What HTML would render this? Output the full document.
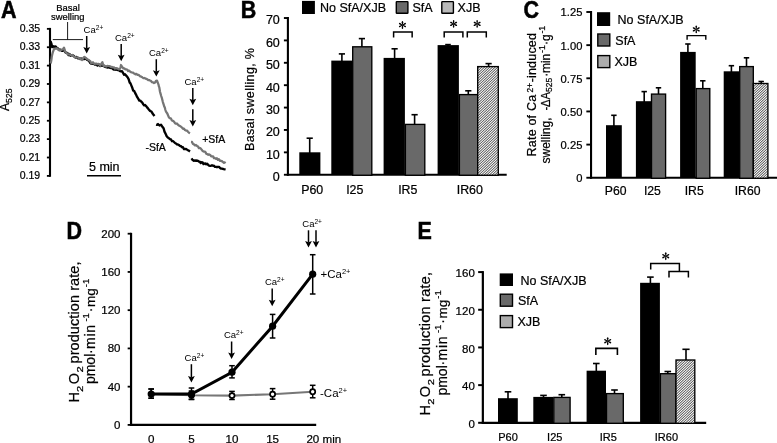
<!DOCTYPE html><html><head><meta charset="utf-8"><style>html,body{margin:0;padding:0;background:#fff}svg{display:block;will-change:transform;transform:translateZ(0)}</style></head><body>
<svg width="777" height="443" viewBox="0 0 777 443" font-family="Liberation Sans, sans-serif" fill="#000" stroke="#000" stroke-width="0">
<defs><linearGradient id="hg" gradientUnits="userSpaceOnUse" x1="0" y1="0" x2="1.247" y2="1.327" spreadMethod="repeat"><stop offset="0" stop-color="#686868"/><stop offset="0.15" stop-color="#686868"/><stop offset="0.5" stop-color="#f4f4f4"/><stop offset="0.65" stop-color="#f4f4f4"/><stop offset="1" stop-color="#686868"/></linearGradient><filter id="hb" x="-5%" y="-5%" width="110%" height="110%"><feGaussianBlur stdDeviation="0.55"/></filter><pattern id="hatch" width="1.82" height="1.82" patternUnits="userSpaceOnUse" patternTransform="rotate(-43.2)"><rect width="1.82" height="1.82" fill="#f6f6f6"/><rect width="1.82" height="0.8" fill="#4a4a4a"/></pattern></defs>
<rect width="777" height="443" fill="#fff"/>
<text transform="translate(1.0,17.8) scale(1,1.075)" font-size="21.5" font-weight="bold" stroke="#000" stroke-width="0.5">A</text>
<line x1="50" y1="27.9" x2="50" y2="176.8" stroke="#000" stroke-width="2.1" />
<line x1="46.9" y1="28.85" x2="50" y2="28.85" stroke="#000" stroke-width="1.8" />
<text x="40.2" y="32.1" font-size="10.5" text-anchor="end" font-weight="normal" stroke="#000" stroke-width="0.22" >0.35</text>
<line x1="46.9" y1="47.230000000000004" x2="50" y2="47.230000000000004" stroke="#000" stroke-width="1.8" />
<text x="40.2" y="50.480000000000004" font-size="10.5" text-anchor="end" font-weight="normal" stroke="#000" stroke-width="0.22" >0.33</text>
<line x1="46.9" y1="65.61" x2="50" y2="65.61" stroke="#000" stroke-width="1.8" />
<text x="40.2" y="68.86" font-size="10.5" text-anchor="end" font-weight="normal" stroke="#000" stroke-width="0.22" >0.31</text>
<line x1="46.9" y1="83.99000000000001" x2="50" y2="83.99000000000001" stroke="#000" stroke-width="1.8" />
<text x="40.2" y="87.24000000000001" font-size="10.5" text-anchor="end" font-weight="normal" stroke="#000" stroke-width="0.22" >0.29</text>
<line x1="46.9" y1="102.37" x2="50" y2="102.37" stroke="#000" stroke-width="1.8" />
<text x="40.2" y="105.62" font-size="10.5" text-anchor="end" font-weight="normal" stroke="#000" stroke-width="0.22" >0.27</text>
<line x1="46.9" y1="120.75" x2="50" y2="120.75" stroke="#000" stroke-width="1.8" />
<text x="40.2" y="124.0" font-size="10.5" text-anchor="end" font-weight="normal" stroke="#000" stroke-width="0.22" >0.25</text>
<line x1="46.9" y1="139.13" x2="50" y2="139.13" stroke="#000" stroke-width="1.8" />
<text x="40.2" y="142.38" font-size="10.5" text-anchor="end" font-weight="normal" stroke="#000" stroke-width="0.22" >0.23</text>
<line x1="46.9" y1="157.51" x2="50" y2="157.51" stroke="#000" stroke-width="1.8" />
<text x="40.2" y="160.76" font-size="10.5" text-anchor="end" font-weight="normal" stroke="#000" stroke-width="0.22" >0.21</text>
<line x1="46.9" y1="175.89" x2="50" y2="175.89" stroke="#000" stroke-width="1.8" />
<text x="40.2" y="179.14" font-size="10.5" text-anchor="end" font-weight="normal" stroke="#000" stroke-width="0.22" >0.19</text>
<text transform="translate(9.1,110.9) rotate(-90)" font-size="12" stroke="#000" stroke-width="0.22" >A<tspan font-size="8.6" dy="3.1">525</tspan></text>
<text x="68" y="11.3" font-size="9.4" text-anchor="middle" font-weight="normal" stroke="#000" stroke-width="0.22" >Basal</text>
<text x="67.8" y="19.9" font-size="9.4" text-anchor="middle" font-weight="normal" stroke="#000" stroke-width="0.22" >swelling</text>
<line x1="67.6" y1="22" x2="67.6" y2="39.6" stroke="#000" stroke-width="0.9" />
<line x1="52.8" y1="39.6" x2="83" y2="39.6" stroke="#000" stroke-width="0.9" />
<text x="83.6" y="33.3" font-size="9.5">Ca<tspan font-size="6.6" dy="-2.9">2+</tspan></text>
<line x1="86.7" y1="36" x2="86.7" y2="48.5" stroke="#000" stroke-width="1.5" />
<path d="M83.3,47.0 L86.7,48.2 L90.10000000000001,47.0 L86.7,53.4 Z" fill="#000"/>
<text x="115" y="40.6" font-size="9.5">Ca<tspan font-size="6.6" dy="-2.9">2+</tspan></text>
<line x1="121.2" y1="44.1" x2="121.2" y2="56.300000000000004" stroke="#000" stroke-width="1.5" />
<path d="M117.8,54.800000000000004 L121.2,56.00000000000001 L124.60000000000001,54.800000000000004 L121.2,61.2 Z" fill="#000"/>
<text x="149" y="55.8" font-size="9.5">Ca<tspan font-size="6.6" dy="-2.9">2+</tspan></text>
<line x1="156.3" y1="59.2" x2="156.3" y2="71.69999999999999" stroke="#000" stroke-width="1.5" />
<path d="M152.9,70.19999999999999 L156.3,71.39999999999999 L159.70000000000002,70.19999999999999 L156.3,76.6 Z" fill="#000"/>
<text x="184.5" y="84.7" font-size="9.5">Ca<tspan font-size="6.6" dy="-2.9">2+</tspan></text>
<line x1="192.8" y1="88" x2="192.8" y2="100.3" stroke="#000" stroke-width="1.5" />
<path d="M189.4,98.8 L192.8,100.0 L196.20000000000002,98.8 L192.8,105.2 Z" fill="#000"/>
<line x1="192.8" y1="109.3" x2="192.8" y2="121.6" stroke="#000" stroke-width="1.5" />
<path d="M189.4,120.1 L192.8,121.3 L196.20000000000002,120.1 L192.8,126.5 Z" fill="#000"/>
<polyline points="50.5,41.0 51.3,43.4 52.2,47.1 53.1,46.1 54.1,46.8 55.0,46.5 55.9,46.7 56.8,48.2 57.7,48.1 58.6,49.5 59.5,49.6 60.4,49.7 61.3,50.3 62.2,50.9 63.1,49.9 64.0,50.1 64.9,51.5 65.8,52.7 66.8,52.9 67.7,53.4 68.6,55.1 69.6,54.0 70.5,55.7 71.5,55.2 72.4,55.3 73.4,55.7 74.3,56.4 75.3,57.6 76.3,56.9 77.2,57.9 78.2,58.4 79.2,58.3 80.2,59.0 81.1,58.5 82.1,58.9 83.1,58.8 84.0,59.2 85.0,58.4 86.1,58.9 87.2,60.0 88.3,60.4 89.2,61.1 90.2,62.8 91.1,63.6 92.0,63.1 92.9,63.8 93.9,63.9 94.8,64.6 95.7,64.6 96.6,64.1 97.5,65.5 98.4,64.4 99.3,65.2 100.2,66.0 101.3,65.2 102.5,65.9 103.6,65.4 104.5,66.6 105.5,67.0 106.4,66.9 107.3,67.6 108.3,66.9 109.2,67.7 110.2,67.9 111.1,68.1 112.1,68.2 113.1,69.1 114.1,69.6 115.0,69.2 116.0,69.8 117.0,69.0 118.0,70.2 119.0,70.3 120.0,71.1 121.0,71.4 122.0,71.2 123.0,72.8 124.0,74.8 125.0,74.2 126.0,75.4 127.0,76.5 128.0,77.9 128.8,79.6 129.7,82.6 130.5,83.4 131.4,85.6 132.3,87.8 133.2,90.6 134.1,90.8 135.1,92.9 136.0,94.6 137.1,96.9 138.2,98.7 139.3,100.6 140.3,100.6 141.3,101.7 142.3,102.6 143.2,104.3 144.2,105.4 145.1,105.0 146.0,106.0 146.9,107.1 147.8,108.1 148.8,109.5 149.7,110.6 150.6,111.1 151.6,111.8 152.6,113.6 153.5,114.7 154.5,116.0" fill="none" stroke="#000" stroke-width="2.35" stroke-linejoin="round"/>
<polyline points="156.1,124.6 157.1,124.9 158.0,124.1 159.5,125.5 161.0,124.7 162.6,127.1 163.6,128.2 164.5,131.6 165.6,133.8 166.7,136.3 167.8,137.6 169.0,138.3 170.0,139.2 171.0,139.5 172.0,141.2 173.0,141.1 174.0,142.0 175.0,143.0 176.0,143.5 176.9,144.4 177.9,144.5 178.9,145.0 179.9,145.8 180.9,146.2 181.9,147.2 183.0,147.2 184.0,149.1 185.0,149.2 186.0,148.9 187.0,149.6 188.0,150.3 189.0,150.8 190.0,151.5" fill="none" stroke="#000" stroke-width="2.35" stroke-linejoin="round"/>
<polyline points="191.5,158.4 192.7,160.1 193.8,160.8 195.0,160.4 196.0,160.8 197.0,160.5 198.0,160.9 198.9,161.6 199.8,161.7 200.7,163.0 201.7,162.2 202.6,162.3 203.5,164.1 204.4,163.7 205.3,163.4 206.2,164.3 207.2,163.7 208.1,164.8 209.1,165.7 210.0,165.8 211.0,165.8 212.0,165.3 213.0,165.8 214.0,165.7 215.0,166.9 216.0,166.8 217.0,167.3 218.0,166.8 219.0,166.9 220.0,168.0 220.9,168.6 221.9,168.6 222.8,168.8 223.7,169.1 224.7,169.3 225.6,169.2" fill="none" stroke="#000" stroke-width="2.35" stroke-linejoin="round"/>
<polyline points="50.7,63.5 51.0,62.0 51.4,59.8 51.7,57.3 52.2,54.6 52.8,52.3 54.1,48.9 55.2,48.8 56.2,48.4 57.3,48.4 58.4,49.7 59.5,50.5 60.6,50.4 61.8,49.6 62.9,49.4 64.0,47.6 64.6,49.6 65.2,51.6 66.3,52.8 67.5,53.9 68.6,54.5 69.6,54.4 70.5,55.0 71.5,55.6 72.4,55.0 73.4,56.2 74.3,57.0 75.3,57.2 76.3,57.5 77.2,57.5 78.2,57.4 79.2,58.6 80.2,58.4 81.1,59.4 82.1,60.0 83.2,58.0 84.4,56.8 86.0,58.1 87.2,59.2 88.3,59.7 89.2,60.4 90.2,61.1 91.1,62.9 92.0,63.0 92.9,62.3 93.9,63.5 94.8,63.9 95.7,63.7 96.6,63.6 97.5,64.2 98.4,63.9 99.3,64.0 100.2,65.7 101.3,63.8 102.4,62.2 103.6,66.2 104.5,65.7 105.5,66.4 106.4,66.5 107.3,65.8 108.3,66.0 109.2,66.2 110.2,66.4 111.1,67.1 112.1,66.9 113.1,67.4 114.1,67.3 115.0,68.6 116.0,68.1 117.0,68.4 118.0,68.8 118.9,69.4 119.9,68.9 120.5,67.6 121.0,65.0 122.2,66.8 123.3,68.5 124.3,68.3 125.2,69.3 126.2,69.3 127.1,69.5 128.1,71.1 129.0,70.6 130.0,71.5 130.9,72.2 131.8,72.4 132.7,72.5 133.6,73.2 134.5,73.6 135.5,74.4 136.4,73.8 137.3,74.9 138.2,74.8 139.1,75.3 140.0,76.4 140.9,76.4 141.8,76.9 142.7,77.6 143.6,78.2 144.5,78.0 145.5,78.6 146.4,78.9 147.3,79.3 148.2,80.0 149.1,80.0 150.0,80.5 151.0,81.0 152.0,82.2 153.0,82.4 154.0,83.1 155.0,82.6 156.0,80.9 157.0,80.7 158.5,84.6 158.9,86.4 159.3,87.4 159.6,89.3 160.0,91.7 160.4,93.1 161.2,96.0 162.0,98.4 162.8,101.8 163.7,104.6 164.3,106.6 164.8,107.4 165.4,110.0 166.0,111.7 167.3,113.5 168.7,116.9 169.8,118.2 170.8,118.3 171.9,120.5 173.0,120.9 174.0,121.7 175.0,123.2 175.9,123.7 176.9,123.5 177.9,124.7 178.9,125.5 179.9,126.0 180.9,126.6 181.9,127.5 183.0,128.8 184.0,128.6 185.0,130.1 186.0,130.6 187.0,130.6 188.0,131.7 189.0,132.7 190.0,133.2" fill="none" stroke="#757575" stroke-width="2.25" stroke-linejoin="round"/>
<polyline points="191.0,141.8 192.0,141.9 193.0,144.0 194.0,144.4 195.0,145.4 196.0,145.0 197.0,145.9 198.0,146.4 198.9,148.1 199.9,148.1 200.8,148.6 201.7,149.7 202.7,151.1 203.6,151.6 204.5,151.6 205.4,152.1 206.4,153.9 207.3,154.1 208.3,154.8 209.2,154.4 210.2,154.9 211.2,156.3 212.1,156.4 213.1,156.4 214.0,158.1 215.0,158.2 216.0,158.9 216.9,158.3 217.9,159.9 218.9,159.2 219.8,160.8 220.8,160.7 221.7,161.0 222.7,161.8 223.7,162.8 224.6,162.3 225.6,163.1" fill="none" stroke="#757575" stroke-width="2.25" stroke-linejoin="round"/>
<text x="202.2" y="142.8" font-size="10.5" text-anchor="start" font-weight="normal" stroke="#000" stroke-width="0.22" >+SfA</text>
<text x="145.4" y="150.5" font-size="10.5" text-anchor="start" font-weight="normal" stroke="#000" stroke-width="0.22" >-SfA</text>
<text x="89" y="170.5" font-size="12.5" text-anchor="start" font-weight="normal" stroke="#000" stroke-width="0.22" >5 min</text>
<line x1="87" y1="175.8" x2="121" y2="175.8" stroke="#000" stroke-width="1.6" />
<text transform="translate(240.75,17.8) scale(1,1.075)" font-size="21.5" font-weight="bold" stroke="#000" stroke-width="0.5">B</text>
<line x1="287.9" y1="17" x2="287.9" y2="175.75" stroke="#000" stroke-width="2.1" />
<line x1="286.9" y1="174.75" x2="506.7" y2="174.75" stroke="#000" stroke-width="2.1" />
<line x1="283.9" y1="174.75" x2="287.9" y2="174.75" stroke="#000" stroke-width="1.9" />
<text x="279.8" y="181.2" font-size="12.5" text-anchor="end" font-weight="normal" stroke="#000" stroke-width="0.22" >0</text>
<line x1="283.9" y1="152.36" x2="287.9" y2="152.36" stroke="#000" stroke-width="1.9" />
<text x="279.8" y="158.81" font-size="12.5" text-anchor="end" font-weight="normal" stroke="#000" stroke-width="0.22" >10</text>
<line x1="283.9" y1="129.97" x2="287.9" y2="129.97" stroke="#000" stroke-width="1.9" />
<text x="279.8" y="136.42" font-size="12.5" text-anchor="end" font-weight="normal" stroke="#000" stroke-width="0.22" >20</text>
<line x1="283.9" y1="107.58" x2="287.9" y2="107.58" stroke="#000" stroke-width="1.9" />
<text x="279.8" y="114.03" font-size="12.5" text-anchor="end" font-weight="normal" stroke="#000" stroke-width="0.22" >30</text>
<line x1="283.9" y1="85.19" x2="287.9" y2="85.19" stroke="#000" stroke-width="1.9" />
<text x="279.8" y="91.64" font-size="12.5" text-anchor="end" font-weight="normal" stroke="#000" stroke-width="0.22" >40</text>
<line x1="283.9" y1="62.8" x2="287.9" y2="62.8" stroke="#000" stroke-width="1.9" />
<text x="279.8" y="69.25" font-size="12.5" text-anchor="end" font-weight="normal" stroke="#000" stroke-width="0.22" >50</text>
<line x1="283.9" y1="40.41" x2="287.9" y2="40.41" stroke="#000" stroke-width="1.9" />
<text x="279.8" y="46.86" font-size="12.5" text-anchor="end" font-weight="normal" stroke="#000" stroke-width="0.22" >60</text>
<line x1="283.9" y1="18.019999999999982" x2="287.9" y2="18.019999999999982" stroke="#000" stroke-width="1.9" />
<text x="279.8" y="24.21999999999998" font-size="12.5" text-anchor="end" font-weight="normal" stroke="#000" stroke-width="0.22" >70</text>
<text transform="translate(253.5,151) rotate(-90)" font-size="12.5" stroke="#000" stroke-width="0.22" textLength="103" lengthAdjust="spacing">Basal swelling, %</text>
<rect x="302" y="0.9" width="12.9" height="13.1" fill="#000"/>
<text x="320" y="12.2" font-size="12.5" text-anchor="start" font-weight="normal" stroke="#000" stroke-width="0.22" >No SfA/XJB</text>
<rect x="396.3" y="1.6" width="11.6" height="11.7" rx="0.6" fill="#696969" stroke="#000" stroke-width="1.4"/>
<text x="412.5" y="12.2" font-size="12.5" text-anchor="start" font-weight="normal" stroke="#000" stroke-width="0.22" >SfA</text>
<rect x="441.8" y="1.6" width="11.6" height="11.7" rx="0.6" fill="#bababa" stroke="#000" stroke-width="1.4"/>
<text x="457.6" y="12.2" font-size="12.5" text-anchor="start" font-weight="normal" stroke="#000" stroke-width="0.22" >XJB</text>
<line x1="309.7" y1="138.2" x2="309.7" y2="153" stroke="#000" stroke-width="1.6" />
<line x1="306.59999999999997" y1="138.2" x2="312.8" y2="138.2" stroke="#000" stroke-width="1.6" />
<rect x="299.3" y="152.3" width="21.099999999999966" height="22.44999999999999" fill="#000"/>
<line x1="341.9" y1="53.9" x2="341.9" y2="62" stroke="#000" stroke-width="1.6" />
<line x1="338.79999999999995" y1="53.9" x2="345.0" y2="53.9" stroke="#000" stroke-width="1.6" />
<rect x="331.3" y="60.6" width="20.899999999999977" height="114.15" fill="#000"/>
<line x1="361.9" y1="38.6" x2="361.9" y2="47" stroke="#000" stroke-width="1.6" />
<line x1="358.79999999999995" y1="38.6" x2="365.0" y2="38.6" stroke="#000" stroke-width="1.6" />
<rect x="352.7" y="46.8" width="19.100000000000023" height="128.45" fill="#696969" stroke="#000" stroke-width="1.35"/>
<line x1="394.6" y1="48.8" x2="394.6" y2="59" stroke="#000" stroke-width="1.6" />
<line x1="391.5" y1="48.8" x2="397.70000000000005" y2="48.8" stroke="#000" stroke-width="1.6" />
<rect x="383.6" y="57.9" width="21.299999999999955" height="116.85" fill="#000"/>
<line x1="414.6" y1="114.7" x2="414.6" y2="124" stroke="#000" stroke-width="1.6" />
<line x1="411.5" y1="114.7" x2="417.70000000000005" y2="114.7" stroke="#000" stroke-width="1.6" />
<rect x="405.4" y="124.4" width="19.400000000000034" height="50.849999999999994" fill="#696969" stroke="#000" stroke-width="1.35"/>
<line x1="448" y1="44.6" x2="448" y2="46" stroke="#000" stroke-width="1.6" />
<line x1="445.2" y1="44.6" x2="450.8" y2="44.6" stroke="#000" stroke-width="1.6" />
<rect x="437.6" y="45.1" width="21.299999999999955" height="129.65" fill="#000"/>
<line x1="468.3" y1="90.8" x2="468.3" y2="95" stroke="#000" stroke-width="1.6" />
<line x1="465.2" y1="90.8" x2="471.40000000000003" y2="90.8" stroke="#000" stroke-width="1.6" />
<rect x="459.4" y="94.6" width="18.30000000000001" height="80.65" fill="#696969" stroke="#000" stroke-width="1.35"/>
<line x1="488.6" y1="63.6" x2="488.6" y2="67" stroke="#000" stroke-width="1.6" />
<line x1="485.5" y1="63.6" x2="491.70000000000005" y2="63.6" stroke="#000" stroke-width="1.6" />
<rect x="477.7" y="66.6" width="20.600000000000023" height="108.65" fill="url(#hg)" stroke="#000" stroke-width="1.35"/>
<path d="M393.6,37.6 V31.95 H412.15 V37.6" fill="none" stroke="#000" stroke-width="1.5"/>
<g transform="translate(402.45,25.05)" fill="#000"><path transform="rotate(0)" d="M0,0.2 L-0.42,-0.6 L-0.78,-2.9 Q-0.6,-3.95 0,-3.95 Q0.6,-3.95 0.78,-2.9 L0.42,-0.6 Z"/><path transform="rotate(62)" d="M0,0.2 L-0.42,-0.6 L-0.78,-2.9 Q-0.6,-3.95 0,-3.95 Q0.6,-3.95 0.78,-2.9 L0.42,-0.6 Z"/><path transform="rotate(118)" d="M0,0.2 L-0.42,-0.6 L-0.78,-2.9 Q-0.6,-3.95 0,-3.95 Q0.6,-3.95 0.78,-2.9 L0.42,-0.6 Z"/><path transform="rotate(180)" d="M0,0.2 L-0.42,-0.6 L-0.78,-2.9 Q-0.6,-3.95 0,-3.95 Q0.6,-3.95 0.78,-2.9 L0.42,-0.6 Z"/><path transform="rotate(242)" d="M0,0.2 L-0.42,-0.6 L-0.78,-2.9 Q-0.6,-3.95 0,-3.95 Q0.6,-3.95 0.78,-2.9 L0.42,-0.6 Z"/><path transform="rotate(298)" d="M0,0.2 L-0.42,-0.6 L-0.78,-2.9 Q-0.6,-3.95 0,-3.95 Q0.6,-3.95 0.78,-2.9 L0.42,-0.6 Z"/></g>
<path d="M444.2,37.6 V31.95 H462.9 V37.6" fill="none" stroke="#000" stroke-width="1.5"/>
<g transform="translate(453.6,23.85)" fill="#000"><path transform="rotate(0)" d="M0,0.2 L-0.42,-0.6 L-0.78,-2.9 Q-0.6,-3.95 0,-3.95 Q0.6,-3.95 0.78,-2.9 L0.42,-0.6 Z"/><path transform="rotate(62)" d="M0,0.2 L-0.42,-0.6 L-0.78,-2.9 Q-0.6,-3.95 0,-3.95 Q0.6,-3.95 0.78,-2.9 L0.42,-0.6 Z"/><path transform="rotate(118)" d="M0,0.2 L-0.42,-0.6 L-0.78,-2.9 Q-0.6,-3.95 0,-3.95 Q0.6,-3.95 0.78,-2.9 L0.42,-0.6 Z"/><path transform="rotate(180)" d="M0,0.2 L-0.42,-0.6 L-0.78,-2.9 Q-0.6,-3.95 0,-3.95 Q0.6,-3.95 0.78,-2.9 L0.42,-0.6 Z"/><path transform="rotate(242)" d="M0,0.2 L-0.42,-0.6 L-0.78,-2.9 Q-0.6,-3.95 0,-3.95 Q0.6,-3.95 0.78,-2.9 L0.42,-0.6 Z"/><path transform="rotate(298)" d="M0,0.2 L-0.42,-0.6 L-0.78,-2.9 Q-0.6,-3.95 0,-3.95 Q0.6,-3.95 0.78,-2.9 L0.42,-0.6 Z"/></g>
<path d="M467.3,37.6 V31.95 H486.3 V37.6" fill="none" stroke="#000" stroke-width="1.5"/>
<g transform="translate(477.15,23.85)" fill="#000"><path transform="rotate(0)" d="M0,0.2 L-0.42,-0.6 L-0.78,-2.9 Q-0.6,-3.95 0,-3.95 Q0.6,-3.95 0.78,-2.9 L0.42,-0.6 Z"/><path transform="rotate(62)" d="M0,0.2 L-0.42,-0.6 L-0.78,-2.9 Q-0.6,-3.95 0,-3.95 Q0.6,-3.95 0.78,-2.9 L0.42,-0.6 Z"/><path transform="rotate(118)" d="M0,0.2 L-0.42,-0.6 L-0.78,-2.9 Q-0.6,-3.95 0,-3.95 Q0.6,-3.95 0.78,-2.9 L0.42,-0.6 Z"/><path transform="rotate(180)" d="M0,0.2 L-0.42,-0.6 L-0.78,-2.9 Q-0.6,-3.95 0,-3.95 Q0.6,-3.95 0.78,-2.9 L0.42,-0.6 Z"/><path transform="rotate(242)" d="M0,0.2 L-0.42,-0.6 L-0.78,-2.9 Q-0.6,-3.95 0,-3.95 Q0.6,-3.95 0.78,-2.9 L0.42,-0.6 Z"/><path transform="rotate(298)" d="M0,0.2 L-0.42,-0.6 L-0.78,-2.9 Q-0.6,-3.95 0,-3.95 Q0.6,-3.95 0.78,-2.9 L0.42,-0.6 Z"/></g>
<text x="312.2" y="193.8" font-size="12.4" text-anchor="middle" font-weight="normal" stroke="#000" stroke-width="0.22" >P60</text>
<text x="354.8" y="193.8" font-size="12.4" text-anchor="middle" font-weight="normal" stroke="#000" stroke-width="0.22" >I25</text>
<text x="407.8" y="193.8" font-size="12.4" text-anchor="middle" font-weight="normal" stroke="#000" stroke-width="0.22" >IR5</text>
<text x="469.8" y="193.8" font-size="12.4" text-anchor="middle" font-weight="normal" stroke="#000" stroke-width="0.22" >IR60</text>
<text transform="translate(523.5,18) scale(1,1.075)" font-size="21.5" font-weight="bold" stroke="#000" stroke-width="0.5">C</text>
<line x1="591.05" y1="11" x2="591.05" y2="178.75" stroke="#000" stroke-width="2.1" />
<line x1="590.05" y1="177.75" x2="777" y2="177.75" stroke="#000" stroke-width="2.1" />
<line x1="586.3499999999999" y1="177.75" x2="591.05" y2="177.75" stroke="#000" stroke-width="1.9" />
<text x="582.4" y="182.15" font-size="11.2" text-anchor="end" font-weight="normal" stroke="#000" stroke-width="0.22" >0</text>
<line x1="586.3499999999999" y1="144.6" x2="591.05" y2="144.6" stroke="#000" stroke-width="1.9" />
<text x="582.4" y="149.0" font-size="11.2" text-anchor="end" font-weight="normal" stroke="#000" stroke-width="0.22" >0.25</text>
<line x1="586.3499999999999" y1="111.45" x2="591.05" y2="111.45" stroke="#000" stroke-width="1.9" />
<text x="582.4" y="115.85000000000001" font-size="11.2" text-anchor="end" font-weight="normal" stroke="#000" stroke-width="0.22" >0.50</text>
<line x1="586.3499999999999" y1="78.30000000000001" x2="591.05" y2="78.30000000000001" stroke="#000" stroke-width="1.9" />
<text x="582.4" y="82.70000000000002" font-size="11.2" text-anchor="end" font-weight="normal" stroke="#000" stroke-width="0.22" >0.75</text>
<line x1="586.3499999999999" y1="45.150000000000006" x2="591.05" y2="45.150000000000006" stroke="#000" stroke-width="1.9" />
<text x="582.4" y="49.550000000000004" font-size="11.2" text-anchor="end" font-weight="normal" stroke="#000" stroke-width="0.22" >1.00</text>
<line x1="586.3499999999999" y1="12.0" x2="591.05" y2="12.0" stroke="#000" stroke-width="1.9" />
<text x="582.4" y="16.4" font-size="11.2" text-anchor="end" font-weight="normal" stroke="#000" stroke-width="0.22" >1.25</text>
<text transform="translate(535.7,156.4) rotate(-90)" font-size="12.5" stroke="#000" stroke-width="0.22" textLength="61.5" lengthAdjust="spacing">Rate of Ca</text>
<text transform="translate(533.2,92.6) rotate(-90)" font-size="8.3" stroke="#000" stroke-width="0.22" textLength="9.6" lengthAdjust="spacing">2+</text>
<text transform="translate(535.7,82.3) rotate(-90)" font-size="12.5" stroke="#000" stroke-width="0.22" textLength="49.2" lengthAdjust="spacing">-induced</text>
<text transform="translate(549.5,163.5) rotate(-90)" font-size="12" stroke="#000" stroke-width="0.22" >swelling,</text>
<text transform="translate(549.5,110.6) rotate(-90)" font-size="12" stroke="#000" stroke-width="0.22" textLength="18.6" lengthAdjust="spacingAndGlyphs">-ΔA</text>
<text transform="translate(552.2,91.9) rotate(-90)" font-size="8.5" stroke="#000" stroke-width="0.22" >525</text>
<text transform="translate(549.5,76.8) rotate(-90)" font-size="12" stroke="#000" stroke-width="0.22" textLength="23" lengthAdjust="spacing">·min</text>
<text transform="translate(545.3,53) rotate(-90)" font-size="8.8" stroke="#000" stroke-width="0.22" >-1</text>
<text transform="translate(549.5,45) rotate(-90)" font-size="12" stroke="#000" stroke-width="0.22" >·g</text>
<text transform="translate(545.3,33.6) rotate(-90)" font-size="8.8" stroke="#000" stroke-width="0.22" >-1</text>
<rect x="597" y="12.2" width="13.2" height="13.8" fill="#000"/>
<text x="617.6" y="24.3" font-size="12.5" text-anchor="start" font-weight="normal" stroke="#000" stroke-width="0.22" >No SfA/XJB</text>
<rect x="597.8" y="34" width="12" height="12" fill="#696969" stroke="#000" stroke-width="1.4"/>
<text x="615.3" y="44.5" font-size="12.5" text-anchor="start" font-weight="normal" stroke="#000" stroke-width="0.22" >SfA</text>
<rect x="597.8" y="55.6" width="12" height="12" fill="#acacac" stroke="#000" stroke-width="1.4"/>
<text x="614.5" y="66.3" font-size="12.5" text-anchor="start" font-weight="normal" stroke="#000" stroke-width="0.22" >XJB</text>
<line x1="613.9" y1="115.3" x2="613.9" y2="126" stroke="#000" stroke-width="1.6" />
<line x1="611.1999999999999" y1="115.3" x2="616.6" y2="115.3" stroke="#000" stroke-width="1.6" />
<rect x="606" y="125.2" width="15.799999999999955" height="52.55" fill="#000"/>
<line x1="644.2" y1="91.6" x2="644.2" y2="102" stroke="#000" stroke-width="1.6" />
<line x1="641.5" y1="91.6" x2="646.9000000000001" y2="91.6" stroke="#000" stroke-width="1.6" />
<rect x="635.9" y="101.2" width="15.100000000000023" height="76.55" fill="#000"/>
<line x1="658.5" y1="87.8" x2="658.5" y2="94" stroke="#000" stroke-width="1.6" />
<line x1="655.8" y1="87.8" x2="661.2" y2="87.8" stroke="#000" stroke-width="1.6" />
<rect x="651.5" y="94.1" width="14.100000000000023" height="84.15" fill="#696969" stroke="#000" stroke-width="1.35"/>
<line x1="687.9" y1="44" x2="687.9" y2="53" stroke="#000" stroke-width="1.6" />
<line x1="685.1999999999999" y1="44" x2="690.6" y2="44" stroke="#000" stroke-width="1.6" />
<rect x="680.1" y="51.9" width="15.600000000000023" height="125.85" fill="#000"/>
<line x1="702.8" y1="80.8" x2="702.8" y2="89" stroke="#000" stroke-width="1.6" />
<line x1="700.0999999999999" y1="80.8" x2="705.5" y2="80.8" stroke="#000" stroke-width="1.6" />
<rect x="696.2" y="88.6" width="13.599999999999909" height="89.65" fill="#696969" stroke="#000" stroke-width="1.35"/>
<line x1="731.4" y1="65.7" x2="731.4" y2="72" stroke="#000" stroke-width="1.6" />
<line x1="728.6999999999999" y1="65.7" x2="734.1" y2="65.7" stroke="#000" stroke-width="1.6" />
<rect x="723.7" y="71.3" width="15.5" height="106.45" fill="#000"/>
<line x1="746.5" y1="57.8" x2="746.5" y2="67" stroke="#000" stroke-width="1.6" />
<line x1="743.8" y1="57.8" x2="749.2" y2="57.8" stroke="#000" stroke-width="1.6" />
<rect x="739.7" y="66.6" width="13.599999999999909" height="111.65" fill="#696969" stroke="#000" stroke-width="1.35"/>
<line x1="761.2" y1="81.5" x2="761.2" y2="84" stroke="#000" stroke-width="1.6" />
<line x1="758.5" y1="81.5" x2="763.9000000000001" y2="81.5" stroke="#000" stroke-width="1.6" />
<rect x="753.3" y="83.5" width="14.600000000000023" height="94.75" fill="url(#hg)" stroke="#000" stroke-width="1.35"/>
<path d="M687.1,39.7 V35.65 H705.8 V39.7" fill="none" stroke="#000" stroke-width="1.4"/>
<g transform="translate(696.25,29.35)" fill="#000"><path transform="rotate(0)" d="M0,0.2 L-0.42,-0.6 L-0.78,-2.9 Q-0.6,-3.95 0,-3.95 Q0.6,-3.95 0.78,-2.9 L0.42,-0.6 Z"/><path transform="rotate(62)" d="M0,0.2 L-0.42,-0.6 L-0.78,-2.9 Q-0.6,-3.95 0,-3.95 Q0.6,-3.95 0.78,-2.9 L0.42,-0.6 Z"/><path transform="rotate(118)" d="M0,0.2 L-0.42,-0.6 L-0.78,-2.9 Q-0.6,-3.95 0,-3.95 Q0.6,-3.95 0.78,-2.9 L0.42,-0.6 Z"/><path transform="rotate(180)" d="M0,0.2 L-0.42,-0.6 L-0.78,-2.9 Q-0.6,-3.95 0,-3.95 Q0.6,-3.95 0.78,-2.9 L0.42,-0.6 Z"/><path transform="rotate(242)" d="M0,0.2 L-0.42,-0.6 L-0.78,-2.9 Q-0.6,-3.95 0,-3.95 Q0.6,-3.95 0.78,-2.9 L0.42,-0.6 Z"/><path transform="rotate(298)" d="M0,0.2 L-0.42,-0.6 L-0.78,-2.9 Q-0.6,-3.95 0,-3.95 Q0.6,-3.95 0.78,-2.9 L0.42,-0.6 Z"/></g>
<text x="615.7" y="194.7" font-size="12.2" text-anchor="middle" font-weight="normal" stroke="#000" stroke-width="0.22" >P60</text>
<text x="652.4" y="194.7" font-size="12.2" text-anchor="middle" font-weight="normal" stroke="#000" stroke-width="0.22" >I25</text>
<text x="694.2" y="194.7" font-size="12.2" text-anchor="middle" font-weight="normal" stroke="#000" stroke-width="0.22" >IR5</text>
<text x="747.6" y="194.7" font-size="12.2" text-anchor="middle" font-weight="normal" stroke="#000" stroke-width="0.22" >IR60</text>
<text transform="translate(66.45,238.9) scale(1,1.075)" font-size="21.5" font-weight="bold" stroke="#000" stroke-width="0.5">D</text>
<line x1="131.05" y1="232.8" x2="131.05" y2="426.0" stroke="#000" stroke-width="2.2" />
<line x1="129.95000000000002" y1="424.9" x2="316.2" y2="424.9" stroke="#000" stroke-width="2.2" />
<line x1="127.65" y1="424.9" x2="131.05" y2="424.9" stroke="#000" stroke-width="1.8" />
<text x="120.5" y="428.79999999999995" font-size="11.5" text-anchor="end" font-weight="normal" stroke="#000" stroke-width="0.22" >0</text>
<line x1="127.65" y1="386.65999999999997" x2="131.05" y2="386.65999999999997" stroke="#000" stroke-width="1.8" />
<text x="120.5" y="390.55999999999995" font-size="11.5" text-anchor="end" font-weight="normal" stroke="#000" stroke-width="0.22" >40</text>
<line x1="127.65" y1="348.41999999999996" x2="131.05" y2="348.41999999999996" stroke="#000" stroke-width="1.8" />
<text x="120.5" y="352.31999999999994" font-size="11.5" text-anchor="end" font-weight="normal" stroke="#000" stroke-width="0.22" >80</text>
<line x1="127.65" y1="310.17999999999995" x2="131.05" y2="310.17999999999995" stroke="#000" stroke-width="1.8" />
<text x="120.5" y="314.0799999999999" font-size="11.5" text-anchor="end" font-weight="normal" stroke="#000" stroke-width="0.22" >120</text>
<line x1="127.65" y1="271.93999999999994" x2="131.05" y2="271.93999999999994" stroke="#000" stroke-width="1.8" />
<text x="120.5" y="275.8399999999999" font-size="11.5" text-anchor="end" font-weight="normal" stroke="#000" stroke-width="0.22" >160</text>
<line x1="127.65" y1="233.69999999999996" x2="131.05" y2="233.69999999999996" stroke="#000" stroke-width="1.8" />
<text x="120.5" y="237.59999999999997" font-size="11.5" text-anchor="end" font-weight="normal" stroke="#000" stroke-width="0.22" >200</text>
<text transform="translate(79.2,402.5) rotate(-90)" font-size="14.5" stroke="#000" stroke-width="0.22" >H</text>
<text transform="translate(82.60000000000001,391.9) rotate(-90)" font-size="9.5" stroke="#000" stroke-width="0.22" textLength="6.2" lengthAdjust="spacingAndGlyphs">2</text>
<text transform="translate(79.2,384.3) rotate(-90)" font-size="14.5" stroke="#000" stroke-width="0.22" >O</text>
<text transform="translate(82.60000000000001,372.4) rotate(-90)" font-size="9.5" stroke="#000" stroke-width="0.22" textLength="6.2" lengthAdjust="spacingAndGlyphs">2</text>
<text transform="translate(79.2,363.5) rotate(-90)" font-size="14.5" stroke="#000" stroke-width="0.22" textLength="102" lengthAdjust="spacing">production rate,</text>
<text transform="translate(94.7,384.1) rotate(-90)" font-size="14" stroke="#000" stroke-width="0.22" >pmol</text>
<text transform="translate(94.7,354.1) rotate(-90)" font-size="14" stroke="#000" stroke-width="0.22" >·</text>
<text transform="translate(94.7,348.90000000000003) rotate(-90)" font-size="14" stroke="#000" stroke-width="0.22" textLength="24" lengthAdjust="spacing">min</text>
<text transform="translate(89.0,321.6) rotate(-90)" font-size="9.5" stroke="#000" stroke-width="0.22" >-1</text>
<text transform="translate(94.7,312.3) rotate(-90)" font-size="14" stroke="#000" stroke-width="0.22" >·</text>
<text transform="translate(94.7,306.90000000000003) rotate(-90)" font-size="13.5" stroke="#000" stroke-width="0.22" >mg</text>
<text transform="translate(89.0,287.20000000000005) rotate(-90)" font-size="9.5" stroke="#000" stroke-width="0.22" >-1</text>
<polyline points="151.2,394 191.5,395.3 232,395.6 272.6,394.2 312.7,391.7" fill="none" stroke="#777" stroke-width="2.1"/>
<polyline points="151.2,394 191.5,394 232,372.2 272.6,326.2 312.7,274.2" fill="none" stroke="#000" stroke-width="3"/>
<line x1="151.2" y1="389" x2="151.2" y2="398.2" stroke="#000" stroke-width="1.5" />
<line x1="148.39999999999998" y1="389" x2="154.0" y2="389" stroke="#000" stroke-width="1.5" />
<line x1="148.39999999999998" y1="398.2" x2="154.0" y2="398.2" stroke="#000" stroke-width="1.5" />
<line x1="191.5" y1="391" x2="191.5" y2="399.4" stroke="#000" stroke-width="1.5" />
<line x1="188.7" y1="391" x2="194.3" y2="391" stroke="#000" stroke-width="1.5" />
<line x1="188.7" y1="399.4" x2="194.3" y2="399.4" stroke="#000" stroke-width="1.5" />
<line x1="232" y1="391.4" x2="232" y2="399.5" stroke="#000" stroke-width="1.5" />
<line x1="229.2" y1="391.4" x2="234.8" y2="391.4" stroke="#000" stroke-width="1.5" />
<line x1="229.2" y1="399.5" x2="234.8" y2="399.5" stroke="#000" stroke-width="1.5" />
<line x1="272.6" y1="388.6" x2="272.6" y2="399.2" stroke="#000" stroke-width="1.5" />
<line x1="269.8" y1="388.6" x2="275.40000000000003" y2="388.6" stroke="#000" stroke-width="1.5" />
<line x1="269.8" y1="399.2" x2="275.40000000000003" y2="399.2" stroke="#000" stroke-width="1.5" />
<line x1="312.7" y1="385.3" x2="312.7" y2="397.8" stroke="#000" stroke-width="1.5" />
<line x1="309.9" y1="385.3" x2="315.5" y2="385.3" stroke="#000" stroke-width="1.5" />
<line x1="309.9" y1="397.8" x2="315.5" y2="397.8" stroke="#000" stroke-width="1.5" />
<line x1="151.2" y1="389" x2="151.2" y2="398.2" stroke="#000" stroke-width="1.5" />
<line x1="148.39999999999998" y1="389" x2="154.0" y2="389" stroke="#000" stroke-width="1.5" />
<line x1="148.39999999999998" y1="398.2" x2="154.0" y2="398.2" stroke="#000" stroke-width="1.5" />
<line x1="191.5" y1="388" x2="191.5" y2="399.4" stroke="#000" stroke-width="1.5" />
<line x1="188.7" y1="388" x2="194.3" y2="388" stroke="#000" stroke-width="1.5" />
<line x1="188.7" y1="399.4" x2="194.3" y2="399.4" stroke="#000" stroke-width="1.5" />
<line x1="232" y1="365.7" x2="232" y2="377.9" stroke="#000" stroke-width="1.5" />
<line x1="229.2" y1="365.7" x2="234.8" y2="365.7" stroke="#000" stroke-width="1.5" />
<line x1="229.2" y1="377.9" x2="234.8" y2="377.9" stroke="#000" stroke-width="1.5" />
<line x1="272.6" y1="314.4" x2="272.6" y2="338" stroke="#000" stroke-width="1.5" />
<line x1="269.8" y1="314.4" x2="275.40000000000003" y2="314.4" stroke="#000" stroke-width="1.5" />
<line x1="269.8" y1="338" x2="275.40000000000003" y2="338" stroke="#000" stroke-width="1.5" />
<line x1="312.7" y1="254.7" x2="312.7" y2="294" stroke="#000" stroke-width="1.5" />
<line x1="309.9" y1="254.7" x2="315.5" y2="254.7" stroke="#000" stroke-width="1.5" />
<line x1="309.9" y1="294" x2="315.5" y2="294" stroke="#000" stroke-width="1.5" />
<circle cx="191.5" cy="395.3" r="2.55" fill="#fff" stroke="#000" stroke-width="1.7"/>
<circle cx="232" cy="395.6" r="2.55" fill="#fff" stroke="#000" stroke-width="1.7"/>
<circle cx="272.6" cy="394.2" r="2.55" fill="#fff" stroke="#000" stroke-width="1.7"/>
<circle cx="312.7" cy="391.7" r="2.55" fill="#fff" stroke="#000" stroke-width="1.7"/>
<circle cx="151.2" cy="394" r="3.6" fill="#000"/>
<circle cx="191.5" cy="394" r="3.6" fill="#000"/>
<circle cx="232" cy="372.2" r="3.6" fill="#000"/>
<circle cx="272.6" cy="326.2" r="3.6" fill="#000"/>
<circle cx="312.7" cy="274.2" r="3.6" fill="#000"/>
<text x="184.6" y="360.6" font-size="9.5">Ca<tspan font-size="6.6" dy="-2.9">2+</tspan></text>
<line x1="191.4" y1="364.2" x2="191.4" y2="377.6" stroke="#000" stroke-width="1.5" />
<path d="M188.0,376.1 L191.4,377.3 L194.8,376.1 L191.4,382.5 Z" fill="#000"/>
<text x="223.9" y="337.8" font-size="9.5">Ca<tspan font-size="6.6" dy="-2.9">2+</tspan></text>
<line x1="231.6" y1="341.5" x2="231.6" y2="354.1" stroke="#000" stroke-width="1.5" />
<path d="M228.2,352.6 L231.6,353.8 L235.0,352.6 L231.6,359 Z" fill="#000"/>
<text x="264.9" y="285.1" font-size="9.5">Ca<tspan font-size="6.6" dy="-2.9">2+</tspan></text>
<line x1="272.2" y1="288.6" x2="272.2" y2="301.3" stroke="#000" stroke-width="1.5" />
<path d="M268.8,299.8 L272.2,301.0 L275.59999999999997,299.8 L272.2,306.2 Z" fill="#000"/>
<text x="302.3" y="226.8" font-size="9.5">Ca<tspan font-size="6.6" dy="-2.9">2+</tspan></text>
<line x1="308.5" y1="230.3" x2="308.5" y2="242.5" stroke="#000" stroke-width="1.5" />
<path d="M305.1,241.0 L308.5,242.2 L311.9,241.0 L308.5,247.4 Z" fill="#000"/>
<line x1="316" y1="230.3" x2="316" y2="242.5" stroke="#000" stroke-width="1.5" />
<path d="M312.6,241.0 L316,242.2 L319.4,241.0 L316,247.4 Z" fill="#000"/>
<text x="320.5" y="277.8" font-size="11.5">+Ca<tspan font-size="7.5" dy="-4">2+</tspan></text>
<text x="320" y="397.2" font-size="11.5">-Ca<tspan font-size="7.5" dy="-4">2+</tspan></text>
<text x="151.2" y="442.9" font-size="11.6" text-anchor="middle" font-weight="normal" stroke="#000" stroke-width="0.22" >0</text>
<text x="191.5" y="442.9" font-size="11.6" text-anchor="middle" font-weight="normal" stroke="#000" stroke-width="0.22" >5</text>
<text x="232" y="442.9" font-size="11.6" text-anchor="middle" font-weight="normal" stroke="#000" stroke-width="0.22" >10</text>
<text x="272.6" y="442.9" font-size="11.6" text-anchor="middle" font-weight="normal" stroke="#000" stroke-width="0.22" >15</text>
<text x="306.4" y="442.9" font-size="11.6" text-anchor="start" font-weight="normal" stroke="#000" stroke-width="0.22" >20 min</text>
<text transform="translate(417.6,238.8) scale(1,1.075)" font-size="21.5" font-weight="bold" stroke="#000" stroke-width="0.5">E</text>
<line x1="482.85" y1="271.1" x2="482.85" y2="423.90000000000003" stroke="#000" stroke-width="2.2" />
<line x1="481.75" y1="422.8" x2="706.2" y2="422.8" stroke="#000" stroke-width="2.2" />
<line x1="478.15000000000003" y1="422.8" x2="482.85" y2="422.8" stroke="#000" stroke-width="2.0" />
<text x="474.8" y="427.90000000000003" font-size="11.5" text-anchor="end" font-weight="normal" stroke="#000" stroke-width="0.22" >0</text>
<line x1="478.15000000000003" y1="385.12" x2="482.85" y2="385.12" stroke="#000" stroke-width="2.0" />
<text x="474.8" y="390.22" font-size="11.5" text-anchor="end" font-weight="normal" stroke="#000" stroke-width="0.22" >40</text>
<line x1="478.15000000000003" y1="347.44" x2="482.85" y2="347.44" stroke="#000" stroke-width="2.0" />
<text x="474.8" y="352.54" font-size="11.5" text-anchor="end" font-weight="normal" stroke="#000" stroke-width="0.22" >80</text>
<line x1="478.15000000000003" y1="309.76" x2="482.85" y2="309.76" stroke="#000" stroke-width="2.0" />
<text x="474.8" y="314.86" font-size="11.5" text-anchor="end" font-weight="normal" stroke="#000" stroke-width="0.22" >120</text>
<line x1="478.15000000000003" y1="272.08000000000004" x2="482.85" y2="272.08000000000004" stroke="#000" stroke-width="2.0" />
<text x="474.8" y="277.18000000000006" font-size="11.5" text-anchor="end" font-weight="normal" stroke="#000" stroke-width="0.22" >160</text>
<text transform="translate(430.3,415.4) rotate(-90)" font-size="14.5" stroke="#000" stroke-width="0.22" >H</text>
<text transform="translate(433.7,404.79999999999995) rotate(-90)" font-size="9.5" stroke="#000" stroke-width="0.22" textLength="6.2" lengthAdjust="spacingAndGlyphs">2</text>
<text transform="translate(430.3,397.2) rotate(-90)" font-size="14.5" stroke="#000" stroke-width="0.22" >O</text>
<text transform="translate(433.7,385.29999999999995) rotate(-90)" font-size="9.5" stroke="#000" stroke-width="0.22" textLength="6.2" lengthAdjust="spacingAndGlyphs">2</text>
<text transform="translate(430.3,376.4) rotate(-90)" font-size="14.5" stroke="#000" stroke-width="0.22" textLength="104.5" lengthAdjust="spacing">production rate,</text>
<text transform="translate(446.8,395.6) rotate(-90)" font-size="14" stroke="#000" stroke-width="0.22" >pmol</text>
<text transform="translate(446.8,365.6) rotate(-90)" font-size="14" stroke="#000" stroke-width="0.22" >·</text>
<text transform="translate(446.8,360.40000000000003) rotate(-90)" font-size="14" stroke="#000" stroke-width="0.22" textLength="24" lengthAdjust="spacing">min</text>
<text transform="translate(441.1,333.1) rotate(-90)" font-size="9.5" stroke="#000" stroke-width="0.22" >-1</text>
<text transform="translate(446.8,323.8) rotate(-90)" font-size="14" stroke="#000" stroke-width="0.22" >·</text>
<text transform="translate(446.8,318.40000000000003) rotate(-90)" font-size="13.5" stroke="#000" stroke-width="0.22" >mg</text>
<text transform="translate(441.1,298.70000000000005) rotate(-90)" font-size="9.5" stroke="#000" stroke-width="0.22" >-1</text>
<rect x="499.7" y="273.4" width="13.3" height="12.6" fill="#000"/>
<text x="520.5" y="284.6" font-size="12.5" text-anchor="start" font-weight="normal" stroke="#000" stroke-width="0.22" >No SfA/XJB</text>
<rect x="500.3" y="294.2" width="12.2" height="12" fill="#696969" stroke="#000" stroke-width="1.4"/>
<text x="517.9" y="304.6" font-size="12.5" text-anchor="start" font-weight="normal" stroke="#000" stroke-width="0.22" >SfA</text>
<rect x="500.3" y="315.6" width="12.2" height="12" fill="#acacac" stroke="#000" stroke-width="1.4"/>
<text x="517.4" y="326.2" font-size="12.5" text-anchor="start" font-weight="normal" stroke="#000" stroke-width="0.22" >XJB</text>
<line x1="508" y1="391.8" x2="508" y2="399" stroke="#000" stroke-width="1.6" />
<line x1="504.7" y1="391.8" x2="511.3" y2="391.8" stroke="#000" stroke-width="1.6" />
<rect x="498" y="398.2" width="19.799999999999955" height="24.600000000000023" fill="#000"/>
<line x1="543.5" y1="395.4" x2="543.5" y2="398" stroke="#000" stroke-width="1.6" />
<line x1="540.2" y1="395.4" x2="546.8" y2="395.4" stroke="#000" stroke-width="1.6" />
<rect x="533.3" y="396.9" width="20.0" height="25.900000000000034" fill="#000"/>
<line x1="561.8" y1="394.7" x2="561.8" y2="398" stroke="#000" stroke-width="1.6" />
<line x1="558.5" y1="394.7" x2="565.0999999999999" y2="394.7" stroke="#000" stroke-width="1.6" />
<rect x="553.8" y="397.4" width="16.300000000000068" height="25.900000000000034" fill="#696969" stroke="#000" stroke-width="1.35"/>
<line x1="596.3" y1="363.5" x2="596.3" y2="372" stroke="#000" stroke-width="1.6" />
<line x1="593.0" y1="363.5" x2="599.5999999999999" y2="363.5" stroke="#000" stroke-width="1.6" />
<rect x="586.6" y="370.7" width="19.399999999999977" height="52.10000000000002" fill="#000"/>
<line x1="614.5" y1="390" x2="614.5" y2="394" stroke="#000" stroke-width="1.6" />
<line x1="611.2" y1="390" x2="617.8" y2="390" stroke="#000" stroke-width="1.6" />
<rect x="606.5" y="393.6" width="16.799999999999955" height="29.69999999999999" fill="#696969" stroke="#000" stroke-width="1.35"/>
<line x1="650.4" y1="277.1" x2="650.4" y2="284" stroke="#000" stroke-width="1.6" />
<line x1="647.1" y1="277.1" x2="653.6999999999999" y2="277.1" stroke="#000" stroke-width="1.6" />
<rect x="640.1" y="282.8" width="19.799999999999955" height="140.0" fill="#000"/>
<line x1="667.8" y1="371.5" x2="667.8" y2="374" stroke="#000" stroke-width="1.6" />
<line x1="664.5" y1="371.5" x2="671.0999999999999" y2="371.5" stroke="#000" stroke-width="1.6" />
<rect x="660.4" y="373.7" width="15.600000000000023" height="49.60000000000002" fill="#696969" stroke="#000" stroke-width="1.35"/>
<line x1="686" y1="349.3" x2="686" y2="360" stroke="#000" stroke-width="1.6" />
<line x1="682.4" y1="349.3" x2="689.6" y2="349.3" stroke="#000" stroke-width="1.6" />
<rect x="676.0" y="360.0" width="18.799999999999955" height="63.30000000000001" fill="url(#hg)" stroke="#000" stroke-width="1.35"/>
<path d="M595.85,354.9 V348.4 H617.4 V354.9" fill="none" stroke="#000" stroke-width="1.6"/>
<g transform="translate(607.7,341.2)" fill="#000"><path transform="rotate(0)" d="M0,0.2 L-0.42,-0.6 L-0.78,-2.9 Q-0.6,-3.95 0,-3.95 Q0.6,-3.95 0.78,-2.9 L0.42,-0.6 Z"/><path transform="rotate(62)" d="M0,0.2 L-0.42,-0.6 L-0.78,-2.9 Q-0.6,-3.95 0,-3.95 Q0.6,-3.95 0.78,-2.9 L0.42,-0.6 Z"/><path transform="rotate(118)" d="M0,0.2 L-0.42,-0.6 L-0.78,-2.9 Q-0.6,-3.95 0,-3.95 Q0.6,-3.95 0.78,-2.9 L0.42,-0.6 Z"/><path transform="rotate(180)" d="M0,0.2 L-0.42,-0.6 L-0.78,-2.9 Q-0.6,-3.95 0,-3.95 Q0.6,-3.95 0.78,-2.9 L0.42,-0.6 Z"/><path transform="rotate(242)" d="M0,0.2 L-0.42,-0.6 L-0.78,-2.9 Q-0.6,-3.95 0,-3.95 Q0.6,-3.95 0.78,-2.9 L0.42,-0.6 Z"/><path transform="rotate(298)" d="M0,0.2 L-0.42,-0.6 L-0.78,-2.9 Q-0.6,-3.95 0,-3.95 Q0.6,-3.95 0.78,-2.9 L0.42,-0.6 Z"/></g>
<path d="M650.7,269.6 V263.5 H679.4 V271.5" fill="none" stroke="#000" stroke-width="1.5"/>
<path d="M669,277.5 V271.5 H688.4 V277.5" fill="none" stroke="#000" stroke-width="1.5"/>
<g transform="translate(665.75,256.2)" fill="#000"><path transform="rotate(0)" d="M0,0.2 L-0.42,-0.6 L-0.78,-2.9 Q-0.6,-3.95 0,-3.95 Q0.6,-3.95 0.78,-2.9 L0.42,-0.6 Z"/><path transform="rotate(62)" d="M0,0.2 L-0.42,-0.6 L-0.78,-2.9 Q-0.6,-3.95 0,-3.95 Q0.6,-3.95 0.78,-2.9 L0.42,-0.6 Z"/><path transform="rotate(118)" d="M0,0.2 L-0.42,-0.6 L-0.78,-2.9 Q-0.6,-3.95 0,-3.95 Q0.6,-3.95 0.78,-2.9 L0.42,-0.6 Z"/><path transform="rotate(180)" d="M0,0.2 L-0.42,-0.6 L-0.78,-2.9 Q-0.6,-3.95 0,-3.95 Q0.6,-3.95 0.78,-2.9 L0.42,-0.6 Z"/><path transform="rotate(242)" d="M0,0.2 L-0.42,-0.6 L-0.78,-2.9 Q-0.6,-3.95 0,-3.95 Q0.6,-3.95 0.78,-2.9 L0.42,-0.6 Z"/><path transform="rotate(298)" d="M0,0.2 L-0.42,-0.6 L-0.78,-2.9 Q-0.6,-3.95 0,-3.95 Q0.6,-3.95 0.78,-2.9 L0.42,-0.6 Z"/></g>
<text x="508.05" y="440.5" font-size="11" text-anchor="middle" font-weight="normal" stroke="#000" stroke-width="0.22" >P60</text>
<text x="554.75" y="440.5" font-size="11" text-anchor="middle" font-weight="normal" stroke="#000" stroke-width="0.22" >I25</text>
<text x="608.2" y="440.5" font-size="11" text-anchor="middle" font-weight="normal" stroke="#000" stroke-width="0.22" >IR5</text>
<text x="666.45" y="440.5" font-size="11" text-anchor="middle" font-weight="normal" stroke="#000" stroke-width="0.22" >IR60</text>
</svg></body></html>
